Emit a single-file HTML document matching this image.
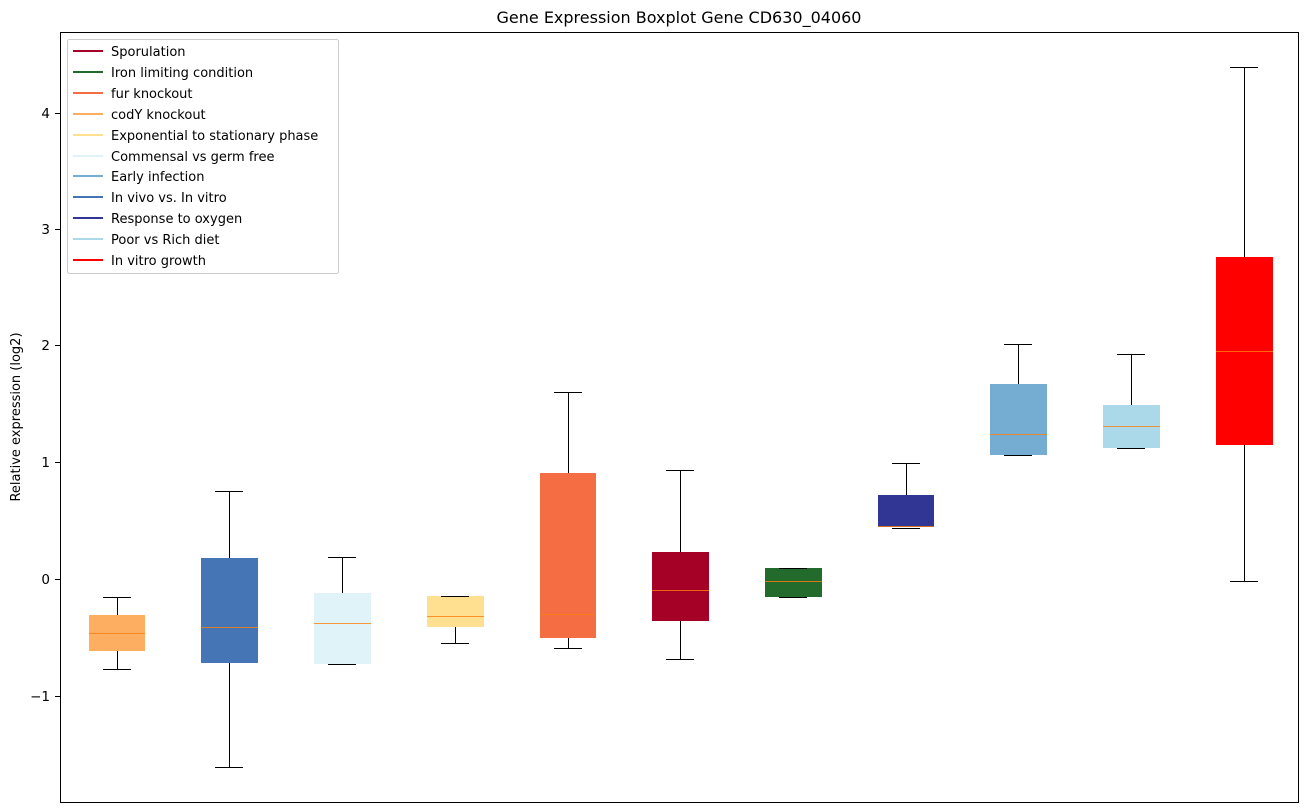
<!DOCTYPE html>
<html><head><meta charset="utf-8"><style>
body{margin:0;background:#fff;}
svg{display:block;font-family:"DejaVu Sans","Liberation Sans",sans-serif;}
</style></head><body>
<svg width="1309" height="812" viewBox="0 0 1309 812">
<rect width="1309" height="812" fill="#fff"/>
<text x="679" y="23" font-size="16" text-anchor="middle">Gene Expression Boxplot Gene CD630_04060</text>
<text transform="translate(20,417) rotate(-90)" font-size="13" text-anchor="middle">Relative expression (log2)</text>
<g font-size="13.5" text-anchor="end">
<text x="50" y="118">4</text><line x1="55" x2="60" y1="113.5" y2="113.5" stroke="#000"/>
<text x="50" y="234">3</text><line x1="55" x2="60" y1="229.5" y2="229.5" stroke="#000"/>
<text x="50" y="350">2</text><line x1="55" x2="60" y1="345.5" y2="345.5" stroke="#000"/>
<text x="50" y="467">1</text><line x1="55" x2="60" y1="462.5" y2="462.5" stroke="#000"/>
<text x="50" y="584">0</text><line x1="55" x2="60" y1="579.5" y2="579.5" stroke="#000"/>
<text x="50" y="701">−1</text><line x1="55" x2="60" y1="696.5" y2="696.5" stroke="#000"/>
</g>
<g>
<rect x="89" y="615" width="56" height="36" fill="#fdae61"/>
<rect x="201" y="558" width="57" height="105" fill="#4575b4"/>
<rect x="314" y="593" width="57" height="71" fill="#e0f3f8"/>
<rect x="427" y="596" width="57" height="31" fill="#fee090"/>
<rect x="540" y="473" width="56" height="165" fill="#f46d43"/>
<rect x="652" y="552" width="57" height="69" fill="#a50026"/>
<rect x="765" y="568" width="57" height="29" fill="#226b2d"/>
<rect x="878" y="495" width="56" height="32" fill="#313695"/>
<rect x="990" y="384" width="57" height="71" fill="#74add1"/>
<rect x="1103" y="405" width="57" height="43" fill="#abd9e9"/>
<rect x="1216" y="257" width="57" height="188" fill="#ff0000"/>
</g>
<g stroke="#000" stroke-width="1">
<line x1="117.5" x2="117.5" y1="597" y2="615"/><line x1="117.5" x2="117.5" y1="651" y2="669"/><line x1="103" x2="131" y1="597.5" y2="597.5"/><line x1="103" x2="131" y1="669.5" y2="669.5"/>
<line x1="229.5" x2="229.5" y1="491" y2="558"/><line x1="229.5" x2="229.5" y1="663" y2="767"/><line x1="215" x2="243" y1="491.5" y2="491.5"/><line x1="215" x2="243" y1="767.5" y2="767.5"/>
<line x1="342.5" x2="342.5" y1="557" y2="593"/><line x1="328" x2="356" y1="557.5" y2="557.5"/><line x1="328" x2="356" y1="664.5" y2="664.5"/>
<line x1="455.5" x2="455.5" y1="627" y2="643"/><line x1="441" x2="469" y1="596.5" y2="596.5"/><line x1="441" x2="469" y1="643.5" y2="643.5"/>
<line x1="568.5" x2="568.5" y1="392" y2="473"/><line x1="568.5" x2="568.5" y1="638" y2="648"/><line x1="554" x2="582" y1="392.5" y2="392.5"/><line x1="554" x2="582" y1="648.5" y2="648.5"/>
<line x1="680.5" x2="680.5" y1="470" y2="552"/><line x1="680.5" x2="680.5" y1="621" y2="659"/><line x1="666" x2="694" y1="470.5" y2="470.5"/><line x1="666" x2="694" y1="659.5" y2="659.5"/>
<line x1="779" x2="807" y1="568.5" y2="568.5"/><line x1="779" x2="807" y1="597.5" y2="597.5"/>
<line x1="906.5" x2="906.5" y1="463" y2="495"/><line x1="892" x2="920" y1="463.5" y2="463.5"/><line x1="892" x2="920" y1="528.5" y2="528.5"/>
<line x1="1018.5" x2="1018.5" y1="344" y2="384"/><line x1="1004" x2="1032" y1="344.5" y2="344.5"/><line x1="1004" x2="1032" y1="455.5" y2="455.5"/>
<line x1="1131.5" x2="1131.5" y1="354" y2="405"/><line x1="1117" x2="1145" y1="354.5" y2="354.5"/><line x1="1117" x2="1145" y1="448.5" y2="448.5"/>
<line x1="1244.5" x2="1244.5" y1="67" y2="257"/><line x1="1244.5" x2="1244.5" y1="445" y2="581"/><line x1="1230" x2="1258" y1="67.5" y2="67.5"/><line x1="1230" x2="1258" y1="581.5" y2="581.5"/>
</g>
<g stroke="#ff7f0e" stroke-width="1" opacity="0.8">
<line x1="89" x2="145" y1="633.5" y2="633.5"/><line x1="201" x2="258" y1="627.5" y2="627.5"/><line x1="314" x2="371" y1="623.5" y2="623.5"/><line x1="427" x2="484" y1="616.5" y2="616.5"/><line x1="540" x2="596" y1="614.5" y2="614.5"/><line x1="652" x2="709" y1="590.5" y2="590.5"/><line x1="765" x2="822" y1="581.5" y2="581.5"/><line x1="878" x2="934" y1="526.5" y2="526.5"/><line x1="990" x2="1047" y1="434.5" y2="434.5"/><line x1="1103" x2="1160" y1="426.5" y2="426.5"/><line x1="1216" x2="1273" y1="351.5" y2="351.5"/>
</g>
<rect x="60.5" y="32.5" width="1238" height="770" fill="none" stroke="#000"/>
<rect x="67.5" y="39.5" width="271" height="234" fill="#fff" fill-opacity="0.8" stroke="#ccc" rx="2"/>
<g font-size="13" stroke-width="2">
<line x1="73" x2="103" y1="51" y2="51" stroke="#a50026"/><text x="111" y="56">Sporulation</text>
<line x1="73" x2="103" y1="72" y2="72" stroke="#226b2d"/><text x="111" y="77">Iron limiting condition</text>
<line x1="73" x2="103" y1="93" y2="93" stroke="#f46d43"/><text x="111" y="98">fur knockout</text>
<line x1="73" x2="103" y1="114" y2="114" stroke="#fdae61"/><text x="111" y="119">codY knockout</text>
<line x1="73" x2="103" y1="135" y2="135" stroke="#fee090"/><text x="111" y="140">Exponential to stationary phase</text>
<line x1="73" x2="103" y1="156" y2="156" stroke="#e0f3f8"/><text x="111" y="161">Commensal vs germ free</text>
<line x1="73" x2="103" y1="176" y2="176" stroke="#74add1"/><text x="111" y="181">Early infection</text>
<line x1="73" x2="103" y1="197" y2="197" stroke="#4575b4"/><text x="111" y="202">In vivo vs. In vitro</text>
<line x1="73" x2="103" y1="218" y2="218" stroke="#313695"/><text x="111" y="223">Response to oxygen</text>
<line x1="73" x2="103" y1="239" y2="239" stroke="#abd9e9"/><text x="111" y="244">Poor vs Rich diet</text>
<line x1="73" x2="103" y1="260" y2="260" stroke="#ff0000"/><text x="111" y="265">In vitro growth</text>
</g>
</svg>
</body></html>
